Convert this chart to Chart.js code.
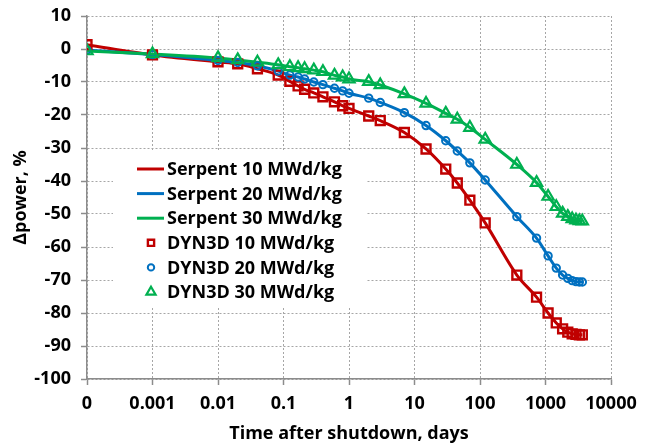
<!DOCTYPE html>
<html>
<head>
<meta charset="utf-8">
<script src="https://cdn.jsdelivr.net/npm/chart.js@4"></script>
<style>
  html, body { margin: 0; padding: 0; background: #ffffff; }
  #wrap { width: 648px; height: 446px; position: relative; }
</style>
</head>
<body>
<div id="wrap"><canvas id="c" width="648" height="446"></canvas></div>
<script>
// ---- data ----
const times = [0, 0.001, 0.01, 0.02, 0.04, 0.083, 0.125, 0.167, 0.21, 0.29, 0.4, 0.6, 0.8, 1, 2, 3, 7, 15, 30, 45, 70, 120, 365, 730, 1095, 1460, 1825, 2190, 2555, 2920, 3285, 3650];
const serpent10 = [1.3, -1.8, -3.9, -4.5, -6.0, -7.9, -9.8, -11.2, -12.2, -13.3, -14.5, -16.0, -17.2, -18.0, -20.3, -21.7, -25.3, -30.3, -36.4, -40.6, -45.8, -52.7, -68.5, -75.2, -80.0, -83.0, -84.8, -85.8, -86.3, -86.5, -86.6, -86.6];
const serpent20 = [-0.3, -1.7, -3.5, -4.1, -5.1, -6.7, -7.9, -8.5, -9.1, -10.0, -10.8, -11.9, -12.7, -13.4, -14.9, -16.2, -19.3, -23.2, -27.8, -30.9, -34.5, -39.7, -50.8, -57.3, -62.7, -66.4, -68.5, -69.5, -70.2, -70.5, -70.6, -70.6];
const serpent30 = [-0.6, -1.5, -2.7, -3.3, -4.0, -4.8, -5.4, -5.7, -6.0, -6.4, -6.9, -8.0, -8.5, -9.1, -9.9, -10.9, -13.6, -16.5, -19.5, -21.3, -23.8, -27.4, -35.0, -40.5, -44.7, -47.8, -49.8, -50.8, -51.5, -51.9, -52.1, -52.2];
const dyn3d10 = [1.3, -1.8, -3.9, -4.5, -6.0, -7.9, -9.8, -11.2, -12.2, -13.3, -14.5, -16.0, -17.2, -18.0, -20.3, -21.7, -25.3, -30.3, -36.4, -40.6, -45.8, -52.7, -68.5, -75.2, -80.0, -83.0, -84.8, -85.8, -86.3, -86.5, -86.6, -86.6];
const dyn3d20 = [-0.3, -1.7, -3.5, -4.1, -5.1, -6.7, -7.9, -8.5, -9.1, -10.0, -10.8, -11.9, -12.7, -13.4, -14.9, -16.2, -19.3, -23.2, -27.8, -30.9, -34.5, -39.7, -50.8, -57.3, -62.7, -66.4, -68.5, -69.5, -70.2, -70.5, -70.6, -70.6];
const dyn3d30 = [-0.6, -1.5, -2.7, -3.3, -4.0, -4.8, -5.4, -5.7, -6.0, -6.4, -6.9, -8.0, -8.5, -9.1, -9.9, -10.9, -13.6, -16.5, -19.5, -21.3, -23.8, -27.4, -35.0, -40.5, -44.7, -47.8, -49.8, -50.8, -51.5, -51.9, -52.1, -52.2];
const seriesLabels = ['Serpent 10 MWd/kg', 'Serpent 20 MWd/kg', 'Serpent 30 MWd/kg', 'DYN3D 10 MWd/kg', 'DYN3D 20 MWd/kg', 'DYN3D 30 MWd/kg'];
const xTickValues = [0.0001, 0.001, 0.01, 0.1, 1, 10, 100, 1000, 10000];
const xTickLabels = ['0', '0.001', '0.01', '0.1', '1', '10', '100', '1000', '10000'];
const yTickValues = [10, 0, -10, -20, -30, -40, -50, -60, -70, -80, -90, -100];
const xTitle = 'Time after shutdown, days';
const yTitle = '\u0394power, %';

// ---- styling ----
const RED = '#C00000', BLUE = '#0070C0', GREEN = '#00B050';
const FONT = '"Open Sans", "Liberation Sans", sans-serif';
const FSIZE = 18;
const X0 = 0.0001; // the "0" position on the log axis

const pts = (vals) => times.map((t, i) => ({ x: t === 0 ? X0 : t, y: vals[i] }));

function lineDs(label, vals, color, order) {
  return { label, data: pts(vals), borderColor: color, backgroundColor: color, borderWidth: 3,
    pointRadius: 0, pointHoverRadius: 0, showLine: true, cubicInterpolationMode: 'monotone', order,
    _legendKind: 'line' };
}
function markDs(label, vals, color, style, radius, bw, order) {
  return { label, data: pts(vals), borderColor: color, backgroundColor: 'rgba(0,0,0,0)', borderWidth: bw,
    pointStyle: style, pointRadius: radius, pointHoverRadius: radius, pointBorderWidth: bw, showLine: false, order,
    _legendKind: 'marker' };
}

const datasets = [
  lineDs(seriesLabels[0], serpent10, RED, 5),
  lineDs(seriesLabels[1], serpent20, BLUE, 4),
  lineDs(seriesLabels[2], serpent30, GREEN, 3),
  markDs(seriesLabels[3], dyn3d10, RED, 'rect', 6.3, 2.4, 2),
  markDs(seriesLabels[4], dyn3d20, BLUE, 'circle', 3.7, 2, 1),
  markDs(seriesLabels[5], dyn3d30, GREEN, 'triangle', 6.5, 2.2, 0),
];

const legendBox = {
  id: 'legendBox',
  beforeDatasetsDraw(chart) {
    const ctx = chart.ctx;
    const x0 = 113, y0 = 152, x1 = 367, y1 = 306;
    ctx.save();
    ctx.fillStyle = '#ffffff';
    ctx.fillRect(x0, y0, x1 - x0, y1 - y0);
    ctx.font = 'bold ' + FSIZE + 'px ' + FONT;
    ctx.textBaseline = 'middle';
    ctx.textAlign = 'left';
    const rowY0 = 169, rowStep = 24.6;
    chart.data.datasets.forEach((ds, i) => {
      const y = rowY0 + i * rowStep;
      if (ds._legendKind === 'line') {
        ctx.strokeStyle = ds.borderColor;
        ctx.lineWidth = 3;
        ctx.beginPath(); ctx.moveTo(137, y); ctx.lineTo(164, y); ctx.stroke();
      } else {
        const r = ds.pointStyle === 'circle' ? 3.2 : (ds.pointStyle === 'rect' ? 4.4 : 5.3);
        ctx.fillStyle = 'rgba(0,0,0,0)';
        ctx.strokeStyle = ds.borderColor;
        ctx.lineWidth = ds.borderWidth;
        Chart.helpers.drawPoint(ctx, { pointStyle: ds.pointStyle, radius: r, borderWidth: ds.borderWidth, rotation: 0 }, 151, y);
      }
      ctx.fillStyle = '#000000';
      ctx.fillText(ds.label, 167, y + 1);
    });
    ctx.restore();
  }
};

new Chart(document.getElementById('c'), {
  type: 'scatter',
  data: { datasets },
  options: {
    responsive: false,
    animation: false,
    devicePixelRatio: 1,
    layout: { padding: { top: 16, right: 37, left: 0, bottom: 0 } },
    plugins: { legend: { display: false }, tooltip: { enabled: false } },
    scales: {
      x: {
        type: 'logarithmic',
        min: 0.0001, max: 10000,
        afterBuildTicks: (s) => { s.ticks = xTickValues.map(v => ({ value: v })); },
        afterFit: (s) => { s.height = 67; },
        ticks: {
          autoSkip: false, maxRotation: 0, padding: 8, color: '#000',
          font: { family: FONT, size: FSIZE, weight: 'bold' },
          callback: (v) => { const i = xTickValues.indexOf(v); return i >= 0 ? xTickLabels[i] : ''; }
        },
        grid: { color: '#a6a6a6', lineWidth: 1, tickLength: 6, tickColor: '#8c8c8c', tickWidth: 1.5, tickBorderDash: [] },
        border: { display: true, color: '#8c8c8c', width: 1.5, dash: [2, 2] },
        title: { display: true, text: xTitle, color: '#000', font: { family: FONT, size: FSIZE, weight: 'bold' }, padding: { top: 0, bottom: 1 } }
      },
      y: {
        type: 'linear',
        min: -100, max: 10,
        afterBuildTicks: (s) => { s.ticks = yTickValues.map(v => ({ value: v })); },
        afterFit: (s) => { s.width = 87; s.paddingTop = 0; s.paddingBottom = 0; },
        ticks: { padding: 10, color: '#000', font: { family: FONT, size: FSIZE, weight: 'bold' } },
        grid: { color: '#a6a6a6', lineWidth: 1, tickLength: 6, tickColor: '#8c8c8c', tickWidth: 1.5, tickBorderDash: [] },
        border: { display: true, color: '#8c8c8c', width: 1.5, dash: [2, 2] },
        title: { display: true, text: yTitle, color: '#000', font: { family: FONT, size: FSIZE, weight: 'bold' }, padding: { top: 10, bottom: 0 } }
      }
    }
  },
  plugins: [legendBox]
});
</script>
</body>
</html>
